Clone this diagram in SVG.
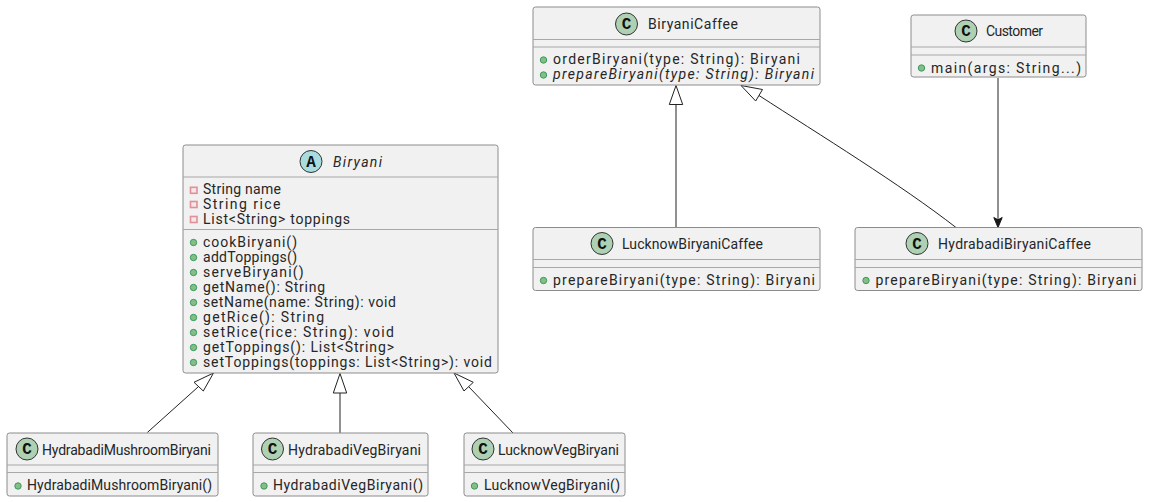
<svg xmlns="http://www.w3.org/2000/svg" width="1149" height="502" viewBox="0 0 1149 502">
<style>
.box{fill:#F1F1F1;stroke:#8C8C8C;stroke-width:1}
.sep{stroke:#A8A8A8;stroke-width:1.2;fill:none}
.t{font-family:Roboto,"Liberation Sans",sans-serif;font-size:14px;fill:#262626}
.i{font-style:italic}
.g{font-family:"Liberation Mono","DejaVu Sans Mono",monospace;font-size:16px;font-weight:bold;fill:#111;text-anchor:middle}
.cc{fill:#ADD1B2;stroke:#333;stroke-width:1}
.ca{fill:#A9DCDF;stroke:#333;stroke-width:1}
.pub{fill:#84BE84;stroke:#3A9A60;stroke-width:1}
.pri{fill:#F6E6E6;stroke:#E0909A;stroke-width:1.6}
.line{fill:none;stroke:#222;stroke-width:1}
.head{fill:#fff;stroke:#222;stroke-width:1}
</style>
<g id="connectors">
<path class="line" d="M147.300 432.500L198.600 386.500"/><path class="head" d="M213.500 373L194 382.300L203.300 391Z"/>
<path class="line" d="M340 433V393"/><path class="head" d="M340 373.500L333.300 393H346.700Z"/>
<path class="line" d="M513 433L468.500 386.500"/><path class="head" d="M454 373L464 391L473.300 382.300Z"/>
<path class="line" d="M676 227V105"/><path class="head" d="M676 85.500L669.300 104.500H682.700Z"/>
<path class="line" d="M956 227.500C900 184 820 135 759 95.500"/><path class="head" d="M741 85.500L755.700 101L762.500 89.500Z"/>
<path class="line" d="M998 78V220"/><path d="M998 227.500L993.800 217.500L998 219.800L1002.200 217.500Z" fill="#181818" stroke="#181818"/>
</g>
<g id="Biryani">
<rect class="box" x="183" y="145" width="315" height="228" rx="2.500"/>
<path class="sep" d="M183 177H498M183 229.500H498"/>
<circle class="ca" cx="311" cy="161.500" r="11"/><text class="g" x="311" y="166.500">A</text>
<text class="t i" x="333" y="167" textLength="49">Biryani</text>
<rect class="pri" x="190.500" y="187.300" width="6.500" height="6"/><rect class="pri" x="190.500" y="201.500" width="6.500" height="6"/><rect class="pri" x="190.500" y="216.500" width="6.500" height="6"/>
<text class="t" x="203" y="194" textLength="78">String name</text>
<text class="t" x="203" y="209" textLength="77.500">String rice</text>
<text class="t" x="203" y="224" textLength="147">List&lt;String&gt; toppings</text>
<circle class="pub" cx="193.500" cy="242.500" r="3.200"/><circle class="pub" cx="193.500" cy="257.500" r="3.200"/><circle class="pub" cx="193.500" cy="272.500" r="3.200"/><circle class="pub" cx="193.500" cy="287.500" r="3.200"/><circle class="pub" cx="193.500" cy="302.500" r="3.200"/><circle class="pub" cx="193.500" cy="317.500" r="3.200"/><circle class="pub" cx="193.500" cy="332.500" r="3.200"/><circle class="pub" cx="193.500" cy="347.500" r="3.200"/><circle class="pub" cx="193.500" cy="362.500" r="3.200"/>
<text class="t" x="203" y="247" textLength="94">cookBiryani()</text>
<text class="t" x="203" y="262" textLength="94">addToppings()</text>
<text class="t" x="203" y="277" textLength="100.500">serveBiryani()</text>
<text class="t" x="203" y="292" textLength="122">getName(): String</text>
<text class="t" x="203" y="307" textLength="193">setName(name: String): void</text>
<text class="t" x="203" y="322" textLength="121">getRice(): String</text>
<text class="t" x="203" y="337" textLength="191">setRice(rice: String): void</text>
<text class="t" x="203" y="352" textLength="191">getToppings(): List&lt;String&gt;</text>
<text class="t" x="203" y="367" textLength="289">setToppings(toppings: List&lt;String&gt;): void</text>
</g>
<g id="HydrabadiMushroomBiryani">
<rect class="box" x="7" y="433" width="211" height="63" rx="2.500"/>
<path class="sep" d="M7 465H218M7 472.500H218"/>
<circle class="cc" cx="27" cy="449" r="11"/><text class="g" x="27" y="454">C</text>
<text class="t" x="42" y="455" textLength="169">HydrabadiMushroomBiryani</text>
<circle class="pub" cx="18" cy="486" r="3.200"/>
<text class="t" x="27" y="490" textLength="185">HydrabadiMushroomBiryani()</text>
</g>
<g id="HydrabadiVegBiryani">
<rect class="box" x="253" y="433" width="175" height="63" rx="2.500"/>
<path class="sep" d="M253 465H428M253 472.500H428"/>
<circle class="cc" cx="272.500" cy="449" r="11"/><text class="g" x="272.500" y="454">C</text>
<text class="t" x="288" y="455" textLength="133">HydrabadiVegBiryani</text>
<circle class="pub" cx="264" cy="486" r="3.200"/>
<text class="t" x="273" y="490" textLength="150">HydrabadiVegBiryani()</text>
</g>
<g id="LucknowVegBiryani">
<rect class="box" x="464" y="433" width="161" height="63" rx="2.500"/>
<path class="sep" d="M464 465H625M464 472.500H625"/>
<circle class="cc" cx="483" cy="449" r="11"/><text class="g" x="483" y="454">C</text>
<text class="t" x="498" y="455" textLength="121">LucknowVegBiryani</text>
<circle class="pub" cx="474.500" cy="486" r="3.200"/>
<text class="t" x="484" y="490" textLength="136">LucknowVegBiryani()</text>
</g>
<g id="BiryaniCaffee">
<rect class="box" x="533" y="7" width="287" height="78" rx="2.500"/>
<path class="sep" d="M533 39.500H820M533 47H820"/>
<circle class="cc" cx="626.500" cy="24" r="11"/><text class="g" x="626.500" y="29">C</text>
<text class="t" x="648" y="29" textLength="90">BiryaniCaffee</text>
<circle class="pub" cx="543.500" cy="60" r="3.200"/><circle class="pub" cx="543.500" cy="75" r="3.200"/>
<text class="t" x="553" y="64" textLength="247">orderBiryani(type: String): Biryani</text>
<text class="t i" x="553" y="79" textLength="261">prepareBiryani(type: String): Biryani</text>
</g>
<g id="Customer">
<rect class="box" x="911" y="15" width="175" height="62" rx="2.500"/>
<path class="sep" d="M911 47H1086M911 55H1086"/>
<circle class="cc" cx="966" cy="31" r="11"/><text class="g" x="966" y="36">C</text>
<text class="t" x="986" y="36" textLength="57">Customer</text>
<circle class="pub" cx="921.500" cy="68" r="3.200"/>
<text class="t" x="931" y="73" textLength="150">main(args: String...)</text>
</g>
<g id="LucknowBiryaniCaffee">
<rect class="box" x="533" y="227.500" width="287" height="63" rx="2.500"/>
<path class="sep" d="M533 259.500H820M533 267.500H820"/>
<circle class="cc" cx="602" cy="243.500" r="11"/><text class="g" x="602" y="248.500">C</text>
<text class="t" x="622" y="249" textLength="141">LucknowBiryaniCaffee</text>
<circle class="pub" cx="543.500" cy="280.500" r="3.200"/>
<text class="t" x="553" y="285" textLength="262">prepareBiryani(type: String): Biryani</text>
</g>
<g id="HydrabadiBiryaniCaffee">
<rect class="box" x="855" y="227.500" width="287" height="63" rx="2.500"/>
<path class="sep" d="M855 259.500H1142M855 267.500H1142"/>
<circle class="cc" cx="917" cy="243.500" r="11"/><text class="g" x="917" y="248.500">C</text>
<text class="t" x="938" y="249" textLength="153">HydrabadiBiryaniCaffee</text>
<circle class="pub" cx="866" cy="280.500" r="3.200"/>
<text class="t" x="875.500" y="285" textLength="261">prepareBiryani(type: String): Biryani</text>
</g>
</svg>
